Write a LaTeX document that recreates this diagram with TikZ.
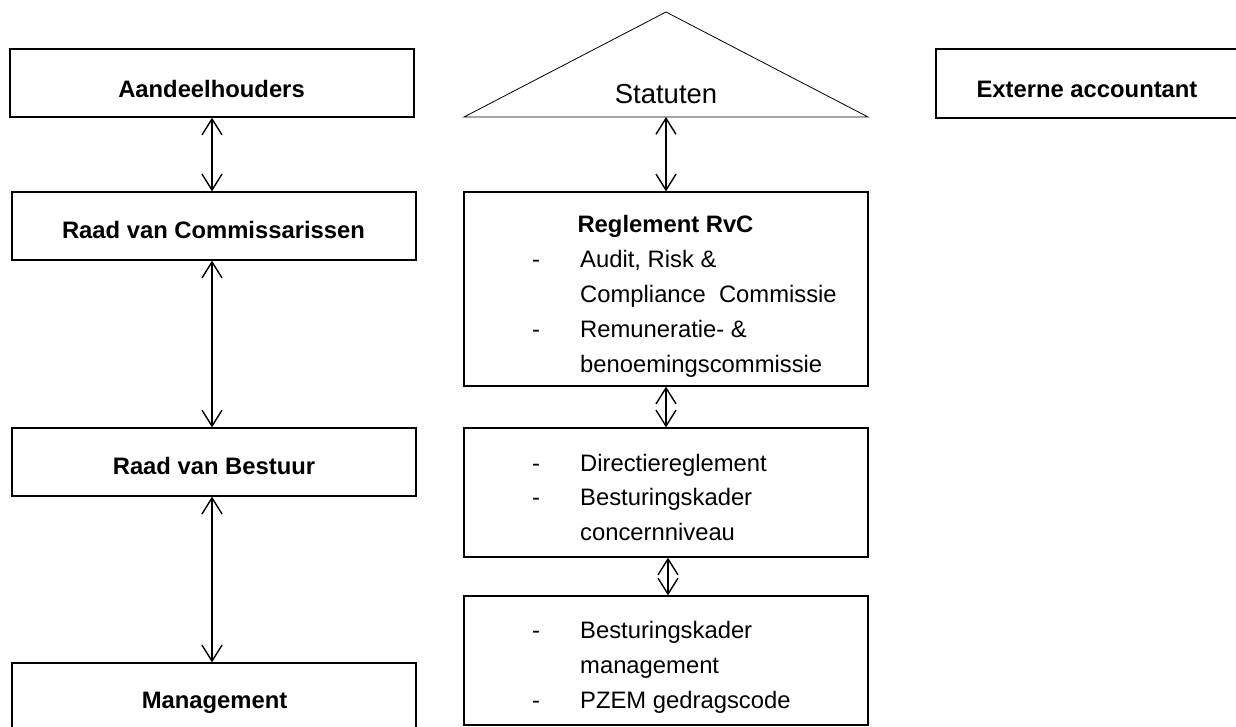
\documentclass[tikz,border=0pt]{standalone}
\usepackage{fontspec}
\setmainfont{Liberation Sans}
\usetikzlibrary{arrows.meta}
\begin{document}
\begin{tikzpicture}[x=1pt,y=-1pt,
  box/.style={draw, line width=1.2pt, rectangle, inner sep=0pt},
  lbl/.style={font=\fontsize{23.8}{28}\selectfont\bfseries, anchor=base, inner sep=0pt},
  itm/.style={font=\fontsize{23.8}{28}\selectfont, anchor=base west, inner sep=0pt},
  conn/.style={line width=1.4pt, {Straight Barb[length=16pt,width=20pt]}-{Straight Barb[length=16pt,width=20pt]}}]
\clip (0,0) rectangle (1236,726);
% left column
\node[box, minimum width=404pt, minimum height=68pt] (aand) at (212,83) {};
\node[box, minimum width=404pt, minimum height=68pt] (rvc) at (214,226) {};
\node[box, minimum width=404pt, minimum height=68pt] (rvb) at (214,462) {};
\node[box, minimum width=404pt, minimum height=68pt] (mgmt) at (214,697) {};
\node[lbl] (aandT) at (211.5,97) {Aandeelhouders};
\node[lbl] (rvcT) at (213.5,238) {Raad van Commissarissen};
\node[lbl] (rvbT) at (214,474) {Raad van Bestuur};
\node[lbl] (mgmtT) at (214.5,708) {Management};
\draw[conn] (aand.south) -- (aand.south |- rvc.north);
\draw[conn] (aand.south |- rvc.south) -- (aand.south |- rvb.north);
\draw[conn] (aand.south |- rvb.south) -- (aand.south |- mgmt.north);
% right
\node[box, minimum width=302pt, minimum height=69pt] (ext) at (1087,83.5) {};
\node[lbl] (extT) at (1087,97) {Externe accountant};
% middle column
\coordinate (tl) at (464,117);
\coordinate (tt) at (666,12);
\coordinate (tr) at (868,117);
\coordinate (stat) at (666,117);
\draw[line width=0.8pt] (tl) -- (tt) -- (tr) -- cycle;
\node[font=\fontsize{27.5}{32}\selectfont, anchor=base, inner sep=0pt] (statT) at (666,103) {Statuten};
\node[box, minimum width=404pt, minimum height=194pt] (regl) at (666,289) {};
\node[box, minimum width=404pt, minimum height=129pt] (dir) at (666,492.5) {};
\node[box, minimum width=404pt, minimum height=129pt] (code) at (666,660.5) {};
\draw[conn] (stat) -- (regl.north);
\draw[conn] (regl.south) -- (dir.north);
\draw[conn] ([xshift=2pt]dir.south) -- ([xshift=2pt]code.north);
\node[lbl] (reglT) at (665.5,232) {Reglement RvC};
\node[itm] (d1) at (532,267) {-};
\node[itm] (i1) at (580,267) {Audit, Risk \&};
\node[itm] (i2) at (580,302) {Compliance\ \ Commissie};
\node[itm] (d2) at (532,337) {-};
\node[itm] (i3) at (580,337) {Remuneratie- \&};
\node[itm] (i4) at (580,372) {benoemingscommissie};
\node[itm] (d3) at (532,471) {-};
\node[itm] (i5) at (580,471) {Directiereglement};
\node[itm] (d4) at (532,505.5) {-};
\node[itm] (i6) at (580,505.5) {Besturingskader};
\node[itm] (i7) at (580,540) {concernniveau};
\node[itm] (d5) at (532,638) {-};
\node[itm] (i8) at (580,638) {Besturingskader};
\node[itm] (i9) at (580,673) {management};
\node[itm] (d6) at (532,708) {-};
\node[itm] (i10) at (580,708) {PZEM gedragscode};
\end{tikzpicture}
\end{document}
